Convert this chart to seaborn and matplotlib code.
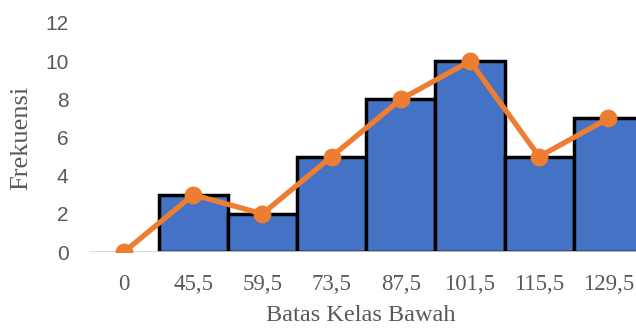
import matplotlib
matplotlib.use("Agg")
import matplotlib.pyplot as plt
import seaborn as sns
import pandas as pd

# data
batas = ["0", "45,5", "59,5", "73,5", "87,5", "101,5", "115,5", "129,5"]
bar_kelas = ["45,5", "59,5", "73,5", "87,5", "101,5", "115,5", "129,5"]
bar_frek = [3, 2, 5, 8, 10, 5, 7]
poligon_frek = [0, 3, 2, 5, 8, 10, 5, 7]

bars = pd.DataFrame({"kelas": bar_kelas, "frek": bar_frek})
poly = pd.DataFrame({"kelas": batas, "frek": poligon_frek})

sns.set_style("white")
plt.rcParams["font.family"] = ["Liberation Serif", "DejaVu Serif"]

fig = plt.figure(figsize=(6.36, 3.28), dpi=100)
ax = fig.add_axes([89.4 / 636, 76 / 328, 553.6 / 636, 229 / 328])

ax.axhline(0, color="#d9d9d9", linewidth=1.2, zorder=0)
sns.barplot(data=bars, x="kelas", y="frek", order=batas, width=1.0,
            color="#4472C4", saturation=1, edgecolor="black", linewidth=2.5,
            ax=ax, zorder=2)
sns.pointplot(data=poly, x="kelas", y="frek", order=batas, color="#ED7D31",
              markersize=10, linewidth=3.8, ax=ax)
for coll in ax.collections + ax.lines:
    coll.set_zorder(3)
    if hasattr(coll, "set_markeredgecolor"):
        coll.set_markeredgecolor("#ED7D31")

ax.set_xlim(-0.5, 7.5)
ax.set_ylim(0, 12)
ax.set_yticks(range(0, 13, 2))
sns.despine(ax=ax, left=True, bottom=True)

ax.tick_params(axis="x", length=0, pad=16, labelsize=16.5, colors="#595959")
ax.tick_params(axis="y", length=0, pad=15, labelsize=15, colors="#595959")
for lab in ax.get_yticklabels():
    lab.set_family(["Liberation Sans", "DejaVu Sans"])

ax.set_xlabel("Batas Kelas Bawah", fontsize=17.5, color="#595959")
ax.set_ylabel("Frekuensi", fontsize=19, color="#595959")
ax.xaxis.set_label_coords(0.49, -0.232)
ax.yaxis.set_label_coords(-0.104, 0.5)

fig.savefig("out.png", dpi=100)
